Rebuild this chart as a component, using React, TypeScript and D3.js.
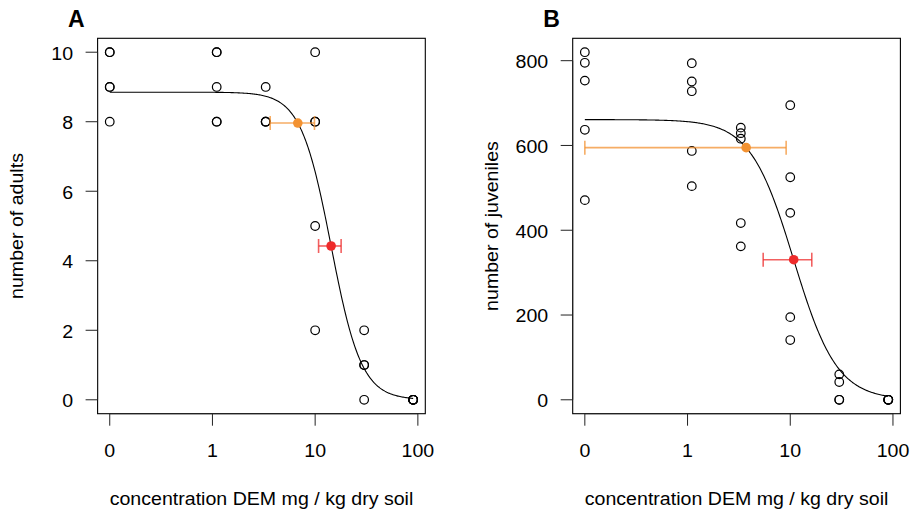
import React from "react";
import * as d3 from "d3";

// ---------- data ----------
const adultConc = [0, 0, 0, 0, 0, 1.1, 1.1, 1.1, 1.1, 1.1, 3.3, 3.3, 3.3, 3.3, 10, 10, 10, 10, 10, 30, 30, 30, 30, 90, 90, 90, 90, 90];
const adultCount = [10, 10, 9, 9, 8, 10, 10, 9, 8, 8, 9, 8, 8, 8, 10, 8, 8, 5, 2, 2, 1, 1, 0, 0, 0, 0, 0, 0];

const juvConc = [0, 0, 0, 0, 0, 1.1, 1.1, 1.1, 1.1, 1.1, 3.3, 3.3, 3.3, 3.3, 3.3, 10, 10, 10, 10, 10, 30, 30, 30, 30, 90, 90, 90, 90];
const juvCount = [820, 795, 753, 637, 471, 794, 751, 728, 587, 504, 642, 629, 616, 417, 362, 695, 525, 441, 195, 141, 60, 42, 0, 0, 0, 0, 0, 0];

// log-logistic fits: [top, EC50, slope]
const adultFit = [8.85, 14.3, 2.94];
const juvFit = [661, 10.8, 2.06];

// effect concentrations: [label, estimate, lower, upper]
const adultEC = [
  ["EC10", 6.78, 3.65, 9.85],
  ["EC50", 14.3, 10.8, 17.9],
];
const juvEC = [
  ["EC10", 3.72, 0, 9.12],
  ["EC50", 10.8, 5.45, 16.2],
];

const xTickValues = [0, 1, 10, 100];
const xTickLabels = ["0", "1", "10", "100"];
const adultTicks = [0, 2, 4, 6, 8, 10];
const juvTicks = [0, 200, 400, 600, 800];

const ecColors = ["#F39231", "#EE2B2B"];

// ---------- helpers ----------
const ZERO_POS = 0.1;
const toPos = (v: number) => (v <= 0 ? ZERO_POS : v);
const FONT = "'Liberation Sans', Arial, Helvetica, sans-serif";
const FS = 17.5;
const SX = 1.12;

function Panel({
  letter, left, right, conc, counts, fit, ecs, yTicks, yMax, yLabel,
}: any) {
  const top = 38.3;
  const bottom = 413.7;
  const lo = Math.log10(ZERO_POS);
  const hi = Math.log10(90);
  const r = hi - lo;
  const x = d3
    .scaleLog()
    .domain([Math.pow(10, lo - 0.04 * r), Math.pow(10, hi + 0.04 * r)])
    .range([left, right]);
  const yPad = 0.04 * yMax;
  const y = d3.scaleLinear().domain([-yPad, yMax + yPad]).range([bottom, top]);

  const [d, e, b] = fit;
  const f = (c: number) => d / (1 + Math.pow(c / e, b));
  const curvePts = d3.range(0, 301).map((i) => {
    const l = lo + ((hi - lo) * i) / 300;
    const c = Math.pow(10, l);
    return [x(c), y(f(c))] as [number, number];
  });
  const line = d3.line()(curvePts) || "";

  const yAxisX = left;
  return (
    <g>
      <text
        x={left - 29.5}
        y={26.5}
        fontFamily={FONT}
        fontWeight="bold"
        fontSize={23}
      >
        {letter}
      </text>
      {/* box */}
      <rect x={left} y={top} width={right - left} height={bottom - top} fill="none" stroke="#000" strokeWidth={1.1} />
      {/* x axis */}
      <line x1={x(toPos(0))} x2={x(100)} y1={bottom} y2={bottom} stroke="#222" />
      {xTickValues.map((v, i) => (
        <g key={"xt" + i}>
          <line x1={x(toPos(v))} x2={x(toPos(v))} y1={bottom} y2={bottom + 12} stroke="#222" />
          <text
            transform={`translate(${x(toPos(v))},${456.5}) scale(${SX},1)`}
            textAnchor="middle"
            fontFamily={FONT}
            fontSize={FS}
          >
            {xTickLabels[i]}
          </text>
        </g>
      ))}
      {/* y axis */}
      <line x1={yAxisX} x2={yAxisX} y1={y(yTicks[0])} y2={y(yTicks[yTicks.length - 1])} stroke="#222" />
      {yTicks.map((v: number, i: number) => (
        <g key={"yt" + i}>
          <line x1={yAxisX - 12} x2={yAxisX} y1={y(v)} y2={y(v)} stroke="#222" />
          <text
            transform={`translate(${left - 24.5},${y(v) + 7.3}) scale(${SX},1)`}
            textAnchor="end"
            fontFamily={FONT}
            fontSize={FS}
          >
            {String(v)}
          </text>
        </g>
      ))}
      {/* titles */}
      <text
        transform={`translate(${(left + right) / 2},${505}) scale(${SX},1)`}
        textAnchor="middle"
        fontFamily={FONT}
        fontSize={FS}
      >
        concentration DEM mg / kg dry soil
      </text>
      <text
        transform={`translate(${left - 75},${(top + bottom) / 2}) rotate(-90) scale(${SX},1)`}
        textAnchor="middle"
        fontFamily={FONT}
        fontSize={FS}
      >
        {yLabel}
      </text>
      {/* points */}
      {conc.map((c: number, i: number) => (
        <circle
          key={"p" + i}
          cx={x(toPos(c))}
          cy={y(counts[i])}
          r={4.3}
          fill="none"
          stroke="#000"
          strokeWidth={1.2}
        />
      ))}
      {/* curve */}
      <path d={line} fill="none" stroke="#000" strokeWidth={1.1} />
      {/* effect concentrations */}
      {ecs.map((ec: any, i: number) => {
        const yy = y(f(ec[1]));
        const x0 = x(toPos(ec[2]));
        const x1 = x(toPos(ec[3]));
        const col = ecColors[i];
        return (
          <g key={"ec" + i}>
            <g stroke={col} strokeOpacity={0.75} strokeWidth={1.6}>
              <line x1={x0} x2={x1} y1={yy} y2={yy} />
              <line x1={x0} x2={x0} y1={yy - 7} y2={yy + 7} />
              <line x1={x1} x2={x1} y1={yy - 7} y2={yy + 7} />
            </g>
            <circle cx={x(ec[1])} cy={yy} r={4.8} fill={col} />
          </g>
        );
      })}
    </g>
  );
}

export default function App() {
  return (
    <svg
      width={914}
      height={514}
      style={{ position: "absolute", left: 0, top: 0, background: "#fff" }}
    >
      <rect x={0} y={0} width={914} height={514} fill="#fff" />
      <Panel
        letter="A"
        left={97.6}
        right={425.3}
        conc={adultConc}
        counts={adultCount}
        fit={adultFit}
        ecs={adultEC}
        yTicks={adultTicks}
        yMax={10}
        yLabel="number of adults"
      />
      <Panel
        letter="B"
        left={572.7}
        right={900.4}
        conc={juvConc}
        counts={juvCount}
        fit={juvFit}
        ecs={juvEC}
        yTicks={juvTicks}
        yMax={820}
        yLabel="number of juveniles"
      />
    </svg>
  );
}
